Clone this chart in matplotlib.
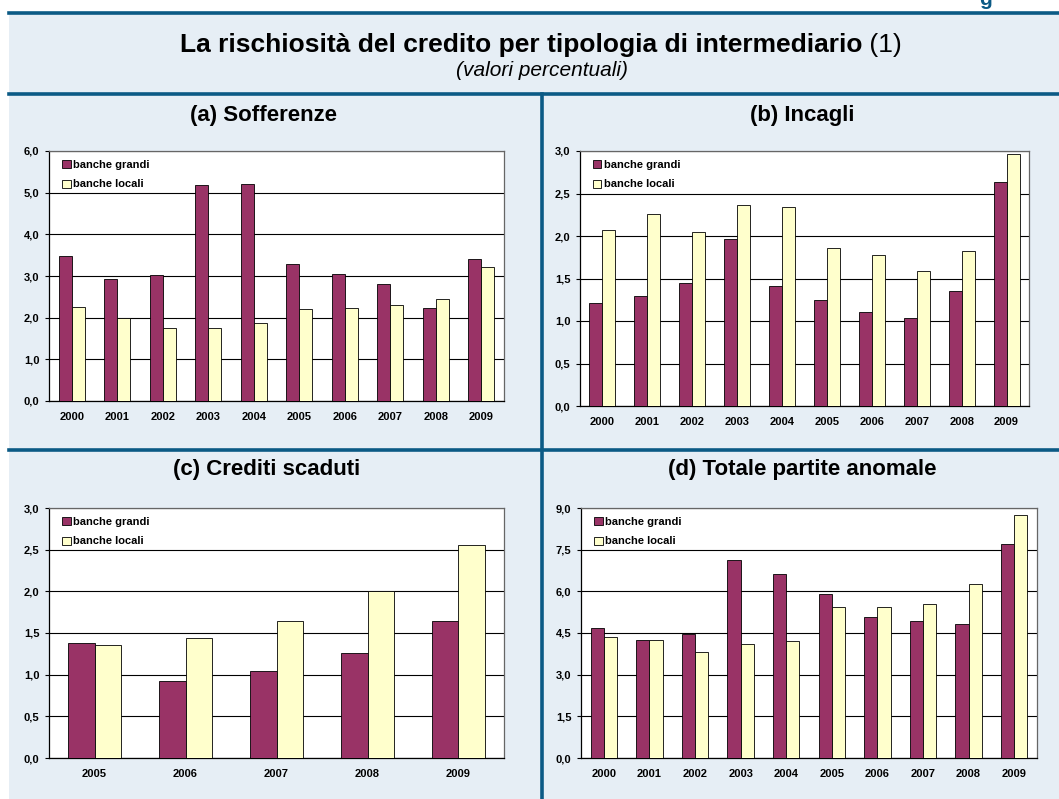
import matplotlib
matplotlib.use("Agg")
import matplotlib.pyplot as plt
from matplotlib.patches import Rectangle
from matplotlib.lines import Line2D
import numpy as np

plt.rcParams['font.family'] = ['Liberation Sans', 'DejaVu Sans']

# ---- data (valori percentuali) ----
anni = ['2000', '2001', '2002', '2003', '2004', '2005', '2006', '2007', '2008', '2009']
anni_scaduti = ['2005', '2006', '2007', '2008', '2009']

soff_grandi = [3.48, 2.94, 3.02, 5.18, 5.22, 3.28, 3.06, 2.82, 2.22, 3.42]
soff_locali = [2.26, 1.98, 1.74, 1.75, 1.87, 2.21, 2.24, 2.30, 2.46, 3.22]

inc_grandi = [1.21, 1.29, 1.45, 1.96, 1.41, 1.25, 1.11, 1.04, 1.35, 2.63]
inc_locali = [2.07, 2.26, 2.05, 2.36, 2.34, 1.86, 1.78, 1.59, 1.82, 2.96]

scad_grandi = [1.38, 0.92, 1.05, 1.26, 1.64]
scad_locali = [1.36, 1.44, 1.65, 2.00, 2.56]

tot_grandi = [4.69, 4.24, 4.48, 7.14, 6.62, 5.92, 5.09, 4.92, 4.84, 7.69]
tot_locali = [4.34, 4.26, 3.80, 4.12, 4.21, 5.42, 5.45, 5.54, 6.28, 8.74]

C_GRANDI = '#993366'
C_LOCALI = '#ffffcc'
BG = '#e6eef5'
BLUE = '#0b5a85'

W, H = 1059, 799
fig = plt.figure(figsize=(W / 100, H / 100), dpi=100)
fig.patch.set_facecolor('white')


def fx(x):
    return x / W


def fy(y):
    return 1 - y / H


# background panel
fig.patches.append(Rectangle((fx(9), 0), 1 - fx(9), fy(13), transform=fig.transFigure,
                             facecolor=BG, edgecolor='none', zorder=0))
# frame lines
for (x0, y0, x1, y1) in [(9, 13, W, 13), (9, 93.5, W, 93.5), (9, 450, W, 450)]:
    fig.lines.append(Line2D([fx(x0), fx(x1)], [fy(y0), fy(y1)], transform=fig.transFigure,
                            color=BLUE, lw=2.6, zorder=0.5))
fig.lines.append(Line2D([fx(541.5), fx(541.5)], [fy(93.5), 0], transform=fig.transFigure,
                        color=BLUE, lw=2.6, zorder=0.5))

# cut-off heading at top right (only its descender shows, as in the source)
fig.text(fx(986), fy(5), 'g', ha='center', va='baseline', fontsize=15,
         fontweight='bold', color=BLUE)

# title: bold part + normal "(1)"
renderer = fig.canvas.get_renderer()
t1 = fig.text(0, fy(45), 'La rischiosità del credito per tipologia di intermediario',
              fontsize=19, fontweight='bold', va='center', ha='left')
t2 = fig.text(0, fy(45), ' (1)', fontsize=19, va='center', ha='left')
w1 = t1.get_window_extent(renderer).width
w2 = t2.get_window_extent(renderer).width
x_start = (541 - (w1 + w2) / 2)
t1.set_x(fx(x_start))
t2.set_x(fx(x_start + w1))
fig.text(fx(542), fy(71), '(valori percentuali)', fontsize=15, style='italic',
         ha='center', va='center')


def panel(box, titolo, cats, grandi, locali, ymax, step, tx, ty):
    left, top, right, bottom = box
    ax = fig.add_axes([fx(left), fy(bottom), fx(right - left), (bottom - top) / H])
    ax.set_zorder(2)
    ax.set_facecolor('white')
    x = np.arange(len(cats))
    bw = 0.29
    ax.bar(x - bw / 2, grandi, bw, color=C_GRANDI, edgecolor='black', linewidth=0.6,
           label='banche grandi', zorder=3)
    ax.bar(x + bw / 2, locali, bw, color=C_LOCALI, edgecolor='black', linewidth=0.6,
           label='banche locali', zorder=3)
    ax.set_xlim(-0.5, len(cats) - 0.5)
    ax.set_ylim(0, ymax)
    ticks = np.arange(0, ymax + step / 2, step)
    ax.set_yticks(ticks)
    ax.set_yticklabels([f'{t:.1f}'.replace('.', ',') for t in ticks])
    ax.set_xticks(x)
    ax.set_xticklabels(cats)
    ax.yaxis.grid(True, color='black', lw=0.8, zorder=1)
    ax.set_axisbelow(True)
    ax.tick_params(axis='x', length=0, pad=8, labelsize=8)
    ax.tick_params(axis='y', length=3, width=0.8, pad=4, labelsize=8)
    for lab in ax.get_xticklabels() + ax.get_yticklabels():
        lab.set_fontweight('bold')
    for s in ['left', 'bottom']:
        ax.spines[s].set_color('black')
        ax.spines[s].set_linewidth(0.9)
    for s in ['top', 'right']:
        ax.spines[s].set_color('#666666')
        ax.spines[s].set_linewidth(0.9)
    ax.legend(loc='upper left', frameon=False, prop={'size': 8, 'weight': 'bold'},
              handlelength=0.75, handleheight=0.75, handletextpad=0.2,
              labelspacing=0.85, borderaxespad=0.3, bbox_to_anchor=(0.012, 0.995))
    fig.text(fx(tx), fy(ty), titolo, fontsize=16, fontweight='bold',
             ha='center', va='center')
    return ax


panel((49, 151, 504, 401), '(a) Sofferenze', anni, soff_grandi, soff_locali, 6.0, 1.0, 264, 115)
panel((580, 151, 1029, 406), '(b) Incagli', anni, inc_grandi, inc_locali, 3.0, 0.5, 802, 115)
panel((49, 508, 504, 758), '(c) Crediti scaduti', anni_scaduti, scad_grandi, scad_locali,
      3.0, 0.5, 267, 470)
panel((581, 508, 1037, 758), '(d) Totale partite anomale', anni, tot_grandi, tot_locali,
      9.0, 1.5, 802, 470)

fig.savefig('out.png', dpi=100, facecolor=fig.get_facecolor())
